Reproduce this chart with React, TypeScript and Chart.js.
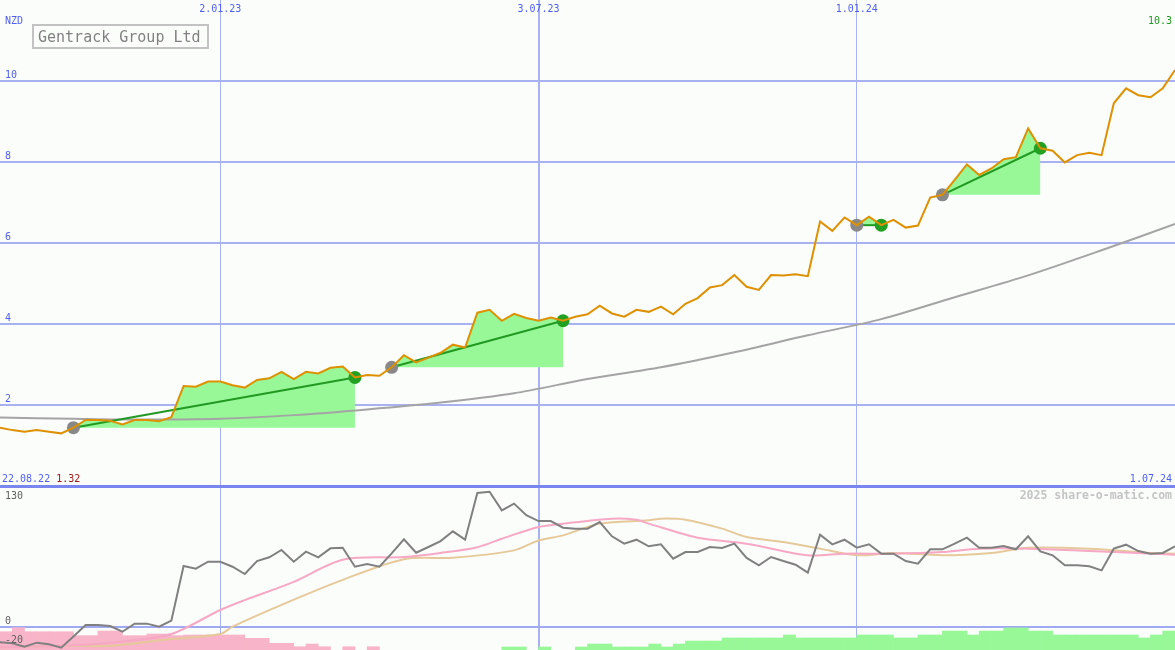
import React, { useEffect, useRef } from "react";
import { Chart, registerables } from "chart.js";

Chart.register(...registerables);

// ---------- texts ----------
const currency = "NZD";
const title = "Gentrack Group Ltd";
const credit = "2025 share-o-matic.com";
const firstDateLabel = "22.08.22";
const lastDateLabel = "1.07.24";
const lowPriceLabel = "1.32";
const lastPriceLabel = "10.3";

// ---------- ticks ----------
const dateTickWeeks = [18, 44, 70];
const dateTickLabels = ["2.01.23", "3.07.23", "1.01.24"];
const priceTicks = [2, 4, 6, 8, 10];
const oscTicks = [130, 0, -20];

// ---------- weekly close (week 0 .. 96) ----------
const price = [
  1.44, 1.38, 1.34, 1.38, 1.34, 1.3, 1.44, 1.63, 1.63, 1.61,
  1.52, 1.63, 1.63, 1.6, 1.7, 2.47, 2.45, 2.58, 2.58, 2.49,
  2.43, 2.62, 2.66, 2.82, 2.64, 2.82, 2.78, 2.92, 2.95, 2.68,
  2.74, 2.72, 2.93, 3.23, 3.05, 3.17, 3.29, 3.49, 3.42, 4.28,
  4.35, 4.08, 4.25, 4.15, 4.08, 4.16, 4.08, 4.18, 4.24, 4.45,
  4.26, 4.18, 4.35, 4.3, 4.43, 4.24, 4.5, 4.64, 4.9, 4.96,
  5.21, 4.92, 4.84, 5.21, 5.2, 5.23, 5.18, 6.53, 6.3, 6.63,
  6.44, 6.65, 6.44, 6.57, 6.38, 6.43, 7.12, 7.19, 7.56, 7.94,
  7.68, 7.84, 8.07, 8.12, 8.83, 8.34, 8.28, 7.99, 8.17, 8.23,
  8.17, 9.45, 9.82, 9.65, 9.6, 9.82, 10.27,
];

// ---------- long moving average ----------
const longAvgWeeks = [0, 6, 12, 18, 24, 30, 36, 42, 48, 54, 60, 66, 72, 78, 84, 90, 96];
const longAvg = [1.69, 1.66, 1.64, 1.66, 1.75, 1.89, 2.06, 2.29, 2.64, 2.93, 3.3, 3.72, 4.12, 4.66, 5.2, 5.82, 6.47];

// ---------- trend segments ----------
const trendStartWeeks = [6, 32, 70, 77];
const trendEndWeeks = [29, 46, 72, 85];

// ---------- lower panel: oscillator ----------
const oscillator = [
  -15.9, -17, -20.5, -16.3, -18, -21.5, -10, 2, 2, 1,
  -4.9, 3.5, 3.5, 0.3, 6.6, 63.4, 60.7, 67.9, 67.9, 62.7,
  55.1, 68.6, 72.5, 80.1, 67.9, 78.3, 72.5, 81.8, 82.5, 62.7,
  65.5, 62.7, 76.6, 91.2, 77.3, 83.2, 89.4, 99.5, 90.8, 139.4,
  140.7, 121.3, 128.3, 116.2, 110.2, 110.2, 103.3, 102.3, 102.3, 109.2,
  94.3, 86.7, 90.8, 83.9, 86, 71.1, 78, 78, 83.2, 82.2,
  86.7, 71.8, 64.2, 72.8, 68.6, 64.8, 56.5, 96, 86, 90.8,
  82.5, 86, 76.3, 76.3, 68.6, 65.9, 80.8, 80.8, 86.7, 92.9,
  82.5, 82.5, 84.2, 80.8, 94.3, 78.7, 74.6, 64.2, 64.2, 63.1,
  58.9, 81.5, 85.6, 79, 76.3, 77, 83.9,
];

const fastAvgWeeks = [0, 6, 10, 14, 18, 20, 24, 28, 33, 36, 39, 41, 44, 46, 50, 52, 53, 57, 61, 66, 69, 73, 77, 80, 84, 89, 96];
const fastAvg = [-21, -19, -15, -7.3, 17.7, 28, 47, 70, 72.8, 77, 83, 91.8, 104, 107.5, 112.7, 111.6, 107.5, 92.9, 86.7, 74.6, 76.3, 76.3, 78, 81.5, 81.5, 79, 75.2];

const slowAvgWeeks = [0, 5, 9, 14, 18, 19, 23, 28, 33, 37, 42, 44, 46, 49, 53, 54, 56, 59, 61, 64, 67, 70, 73, 77, 81, 84, 89, 94, 96];
const slowAvg = [-21, -19.4, -19.4, -12.5, -7.3, 0.3, 23, 49, 70.5, 72, 79.7, 90, 95.3, 107.5, 110.9, 112.7, 111.6, 102.3, 93.6, 88.4, 81.5, 74.6, 77, 74.6, 77, 82.5, 81.5, 77, 76.3];

// ---------- lower panel: histogram (bar tops, weekly) ----------
const histBase = -24;
const sellHistStart = 0;
const sellHist = [
  -4.9, -0.7, -4.9, -4.9, -4.9, -4.9, -9, -9, -4.2, -4.2,
  -9, -9, -7.3, -7.3, -9, -8.3, -8.3, -8.3, -8.3, -8.3,
  -11.8, -11.8, -17, -17, -20.5, -17.7, -20.5, null, -20.5, null,
  -20.5,
];
const buyHistStart = 41;
const buyHist = [
  -20.8, -20.8, null, -20.8, null, null, -20.8, -17.7, -17.7, -20.8,
  -20.8, -20.8, -17.7, -20.8, -17.7, -14.6, -14.6, -14.6, -11.4, -11.4,
  -11.4, -11.4, -11.4, -8.3, -11.4, -11.4, -11.4, -11.4, -11.4, -8.3,
  -8.3, -8.3, -11.4, -11.4, -8.3, -8.3, -4.2, -4.2, -8.3, -4.2,
  -4.2, -1, -1, -4.2, -4.2, -8.3, -8.3, -8.3, -8.3, -8.3,
  -8.3, -8.3, -11.4, -8.3, -4.2,
];

// ---------- styling ----------
const W = 1175;
const H = 650;
const BG = "#fbfdfb";
const BLUE = "#4f5ff0";
const GRID = "#a8b1f2";
const MONO = "'DejaVu Sans Mono', 'Liberation Mono', monospace";

// panel geometry (pixel mapping)
const mainZeroPx = 486;
const mainPxPerUnit = 40.5;
const oscZeroPx = 627;
const oscPxPerUnit = 0.9615;

export default function App() {
  const ref = useRef<HTMLCanvasElement | null>(null);

  useEffect(() => {
    document.body.style.margin = "0";
    document.body.style.background = BG;
    const canvas = ref.current;
    if (!canvas) return;

    const pts = (weeks: number[], vals: number[]) => weeks.map((w, i) => ({ x: w, y: vals[i] }));
    const seq = (vals: number[]) => vals.map((v, i) => ({ x: i, y: v }));

    const datasets: any[] = [];

    datasets.push({
      type: "line",
      data: seq(price),
      yAxisID: "y",
      borderColor: "#de9000",
      borderWidth: 2,
      pointRadius: 0,
      tension: 0,
      fill: false,
      order: 0,
    });

    trendStartWeeks.forEach((s, k) => {
      const e = trendEndWeeks[k];
      datasets.push({
        type: "line",
        data: [
          { x: s, y: price[s] },
          { x: e, y: price[e] },
        ],
        yAxisID: "y",
        borderColor: "#229922",
        borderWidth: 2,
        pointRadius: 6.5,
        pointBorderWidth: 0,
        pointBackgroundColor: ["#888888", "#22a022"],
        pointBorderColor: ["#888888", "#22a022"],
        tension: 0,
        fill: false,
        order: 1,
      });
    });

    datasets.push({
      type: "line",
      data: pts(longAvgWeeks, longAvg),
      yAxisID: "y",
      borderColor: "#a4a4a4",
      borderWidth: 2,
      pointRadius: 0,
      tension: 0.3,
      fill: false,
      order: 2,
    });

    trendStartWeeks.forEach((s, k) => {
      const e = trendEndWeeks[k];
      const seg = [];
      for (let i = s; i <= e; i++) seg.push({ x: i, y: price[i] });
      datasets.push({
        type: "line",
        data: seg,
        yAxisID: "y",
        borderWidth: 0,
        borderColor: "rgba(0,0,0,0)",
        backgroundColor: "#98f898",
        pointRadius: 0,
        tension: 0,
        fill: { value: price[s] },
        order: 3,
      });
    });

    datasets.push({
      type: "line",
      data: seq(oscillator),
      yAxisID: "y2",
      borderColor: "#808080",
      borderWidth: 2,
      pointRadius: 0,
      tension: 0,
      fill: false,
      order: 0,
    });
    datasets.push({
      type: "line",
      data: pts(fastAvgWeeks, fastAvg),
      yAxisID: "y2",
      borderColor: "#f6a8c4",
      borderWidth: 2,
      pointRadius: 0,
      tension: 0.3,
      fill: false,
      order: 1,
    });
    datasets.push({
      type: "line",
      data: pts(slowAvgWeeks, slowAvg),
      yAxisID: "y2",
      borderColor: "#e6c99a",
      borderWidth: 2,
      pointRadius: 0,
      tension: 0.3,
      fill: false,
      order: 2,
    });

    const bars: any[] = [];
    const barColors: string[] = [];
    sellHist.forEach((v, k) => {
      if (v == null) return;
      bars.push({ x: sellHistStart + k + 0.5, y: [histBase, v] });
      barColors.push("#f8b4c8");
    });
    buyHist.forEach((v, k) => {
      if (v == null) return;
      bars.push({ x: buyHistStart + k + 0.5, y: [histBase, v] });
      barColors.push("#98f898");
    });
    datasets.push({
      type: "bar",
      data: bars,
      yAxisID: "y2",
      backgroundColor: barColors,
      borderWidth: 0,
      barPercentage: 1,
      categoryPercentage: 1,
      order: 5,
    });

    const bgPlugin = {
      id: "bg",
      beforeDraw(chart: any) {
        const c = chart.ctx;
        c.save();
        c.fillStyle = BG;
        c.fillRect(0, 0, chart.width, chart.height);
        c.restore();
      },
    };

    const textPlugin = {
      id: "texts",
      afterDatasetsDraw(chart: any) {
        const c = chart.ctx;
        const xs = chart.scales.x;
        const ys = chart.scales.y;
        const y2 = chart.scales.y2;
        c.save();
        c.textBaseline = "middle";
        c.font = `10px ${MONO}`;
        c.fillStyle = BLUE;
        c.textAlign = "left";
        priceTicks.forEach((t) => c.fillText(String(t), 5, ys.getPixelForValue(t) - 6));
        c.fillText(currency, 5, 21);
        c.fillStyle = "#606060";
        oscTicks.forEach((t) => c.fillText(String(t), 5, y2.getPixelForValue(t) - 6));
        c.fillStyle = BLUE;
        c.textAlign = "center";
        dateTickWeeks.forEach((w, i) => c.fillText(dateTickLabels[i], xs.getPixelForValue(w), 9));
        c.textAlign = "left";
        c.fillText(firstDateLabel, 2, 479);
        const fw = c.measureText(firstDateLabel + " ").width;
        c.fillStyle = "#a01818";
        c.fillText(lowPriceLabel, 2 + fw, 479);
        c.fillStyle = BLUE;
        c.textAlign = "right";
        c.fillText(lastDateLabel, 1172, 479);
        c.fillStyle = "#229922";
        c.fillText(lastPriceLabel, 1172, 21);
        c.font = `bold 11.5px ${MONO}`;
        c.fillStyle = "#c4c4c4";
        c.fillText(credit, 1172, 496);
        c.fillStyle = BG;
        c.fillRect(33, 25, 175, 23);
        c.strokeStyle = "#c2c2c2";
        c.lineWidth = 2;
        c.strokeRect(33, 25, 175, 23);
        c.font = `15px ${MONO}`;
        c.fillStyle = "#808080";
        c.textAlign = "left";
        c.textBaseline = "alphabetic";
        c.fillText(title, 38, 42);
        c.restore();
      },
    };

    const chart = new Chart(canvas, {
      type: "line",
      data: { datasets },
      plugins: [bgPlugin, textPlugin],
      options: {
        responsive: false,
        animation: false,
        events: [],
        layout: { padding: 0, autoPadding: false },
        plugins: { legend: { display: false }, tooltip: { enabled: false } },
        scales: {
          x: {
            type: "linear",
            min: 0,
            max: 96,
            offset: false,
            afterBuildTicks: (s: any) => {
              s.ticks = dateTickWeeks.map((v) => ({ value: v }));
            },
            ticks: { display: false },
            border: { display: false },
            grid: {
              offset: false,
              drawTicks: false,
              color: GRID,
              lineWidth: (ctx: any) => (ctx.tick && ctx.tick.value === 44 ? 2 : 1),
            },
          },
          y: {
            type: "linear",
            position: "left",
            min: -(H - mainZeroPx) / mainPxPerUnit,
            max: mainZeroPx / mainPxPerUnit,
            afterBuildTicks: (s: any) => {
              s.ticks = [0, ...priceTicks].map((v) => ({ value: v }));
            },
            ticks: { display: false },
            border: { display: false },
            grid: {
              drawTicks: false,
              color: (ctx: any) => (ctx.tick && ctx.tick.value === 0 ? "#7a86f0" : GRID),
              lineWidth: (ctx: any) => (ctx.tick && ctx.tick.value === 0 ? 3 : 2),
            },
          },
          y2: {
            type: "linear",
            position: "left",
            min: -(H - oscZeroPx) / oscPxPerUnit,
            max: oscZeroPx / oscPxPerUnit,
            afterBuildTicks: (s: any) => {
              s.ticks = [0].map((v) => ({ value: v }));
            },
            ticks: { display: false },
            border: { display: false },
            grid: { drawTicks: false, color: "#a0aaf2", lineWidth: 2 },
          },
        },
      },
    });
    return () => chart.destroy();
  }, []);

  return (
    <div style={{ position: "absolute", left: 0, top: 0, width: W, height: H, background: BG }}>
      <canvas ref={ref} width={W} height={H} style={{ display: "block", width: W, height: H }} />
    </div>
  );
}
